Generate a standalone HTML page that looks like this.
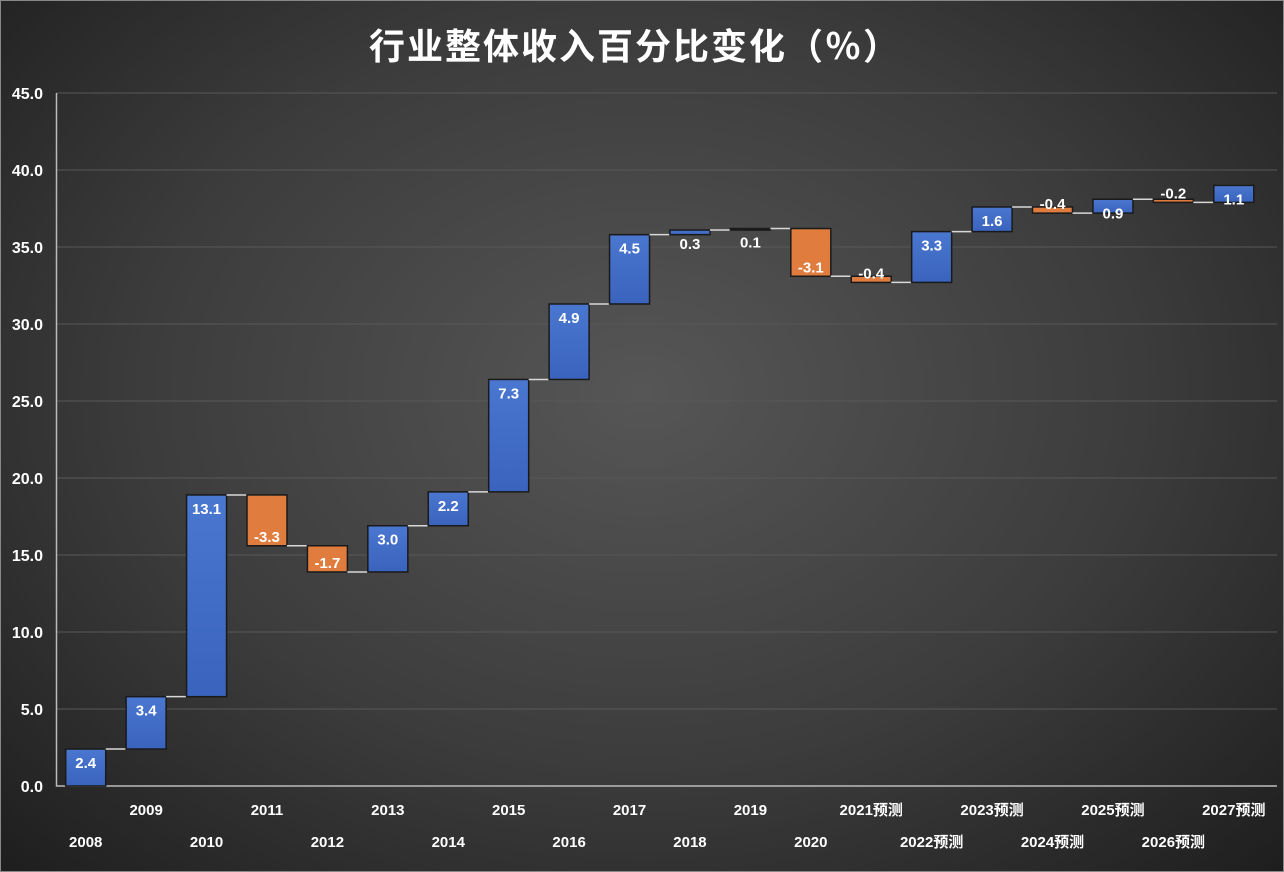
<!DOCTYPE html>
<html><head><meta charset="utf-8"><style>
html,body{margin:0;padding:0;}
body{width:1284px;height:872px;overflow:hidden;font-family:"Liberation Sans","Noto Sans CJK SC",sans-serif;}
#wrap{position:relative;width:1282px;height:870px;border:1px solid #888;background:radial-gradient(ellipse at 50% 45%,#565656 0%,#3c3c3c 55%,#1e1e1e 100%);}
</style></head><body>
<div id="wrap">
<svg id="chart" width="1282" height="870" style="position:absolute;left:0;top:0">
<defs><linearGradient id="bl" x1="0" y1="0" x2="0" y2="1"><stop offset="0" stop-color="#4a77d0"/><stop offset="1" stop-color="#3a63bd"/></linearGradient></defs>
<text x="634" y="58" text-anchor="middle" fill="#fff" font-size="36" font-weight="bold" letter-spacing="2">行业整体收入百分比变化（％）</text>
</svg>
</div>
<script>
const categories=["2008","2009","2010","2011","2012","2013","2014","2015","2016","2017","2018","2019","2020","2021预测","2022预测","2023预测","2024预测","2025预测","2026预测","2027预测"];
const changes=[2.4,3.4,13.1,-3.3,-1.7,3.0,2.2,7.3,4.9,4.5,0.3,0.1,-3.1,-0.4,3.3,1.6,-0.4,0.9,-0.2,1.1];
const yTicks=[0,5,10,15,20,25,30,35,40,45];
const svg=document.getElementById('chart');
const NS='http://www.w3.org/2000/svg';
const L=55.5,R=1264,T=92,B=785,YMAX=45;
const y=v=>B-(v/YMAX)*(B-T);
const step=(R-L)/categories.length;
const cx=i=>L+step*(i+0.5)-1;
const bw=40;
function mk(tag,attrs){const e=document.createElementNS(NS,tag);for(const k in attrs)e.setAttribute(k,attrs[k]);svg.appendChild(e);return e;}
yTicks.forEach((t,i)=>{
  if(t>0){const g=mk('line',{x1:L,x2:R+12,y1:y(t),y2:y(t),stroke:'#585858','stroke-width':1});
  
  }
  const tx=mk('text',{x:42,y:y(t)+6,'text-anchor':'end',fill:'#fff','font-size':16,'font-weight':'bold'});
  tx.textContent=t.toFixed(1);
  
  
});
const ax=mk('path',{d:`M${L},${T} V${B} H${R+12}`,stroke:'#bbb','stroke-width':1.5,fill:'none'});


let cum=0;
changes.forEach((c,i)=>{
  const start=cum,end=cum+c;cum=end;
  const top=y(Math.max(start,end)),bot=y(Math.min(start,end));
  const r=mk('rect',{x:cx(i)-bw/2,y:top,width:bw,height:Math.max(bot-top,1.5),fill:c>=0?'url(#bl)':'#e07c3e',stroke:'#1a1a1a','stroke-width':1.5});
  
  
  if(i<changes.length-1){
    const ln=mk('line',{x1:cx(i)+bw/2,x2:cx(i+1)-bw/2,y1:y(end),y2:y(end),stroke:'#d8d8d8','stroke-width':1.5});
    
    
  }
  const ly=c>=0?top+19:bot-4;
  const lb=mk('text',{x:cx(i),y:ly,'text-anchor':'middle',fill:'#fff','font-size':15,'font-weight':'bold'});
  lb.textContent=c.toFixed(1);
  
  
  const xl=mk('text',{x:cx(i),y:i%2===0?846:814,'text-anchor':'middle',fill:'#fff','font-size':15,'font-weight':'bold'});
  xl.textContent=categories[i];
  
  
});
</script>
</body></html>
